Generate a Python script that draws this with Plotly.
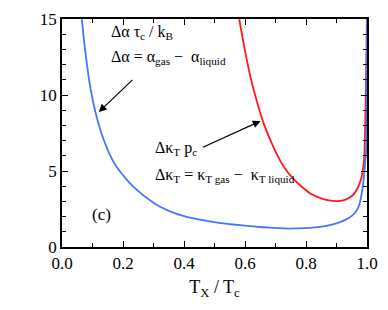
import plotly.graph_objects as go

# Blue curve: Δα τc / kB
alpha_x = [0.065, 0.072, 0.080, 0.088, 0.100, 0.110, 0.120, 0.135, 0.155, 0.175,
           0.195, 0.220, 0.250, 0.285, 0.320, 0.360, 0.400, 0.447, 0.510, 0.560,
           0.608, 0.660, 0.706, 0.745, 0.770, 0.820, 0.867, 0.900, 0.932, 0.950,
           0.964, 0.975, 0.981, 0.987, 0.991, 0.994, 0.997, 0.9985, 1.0]
alpha_y = [15.0, 13.6, 12.3, 11.1, 9.75, 8.85, 8.1, 7.15, 6.15, 5.4,
           4.85, 4.25, 3.68, 3.12, 2.66, 2.3, 2.03, 1.82, 1.60, 1.48,
           1.39, 1.30, 1.24, 1.21, 1.22, 1.27, 1.39, 1.55, 1.82, 2.05,
           2.34, 2.8, 3.35, 4.1, 4.87, 5.5, 6.3, 8.5, 15.0]

# Red curve: Δκ_T p_c
kappa_x = [0.581, 0.600, 0.619, 0.640, 0.660, 0.685, 0.706, 0.730, 0.760, 0.790,
           0.820, 0.850, 0.875, 0.905, 0.930, 0.954, 0.970, 0.981, 0.988, 0.991,
           0.994, 0.996, 0.998, 0.9995]
kappa_y = [15.0, 12.9, 11.1, 9.5, 8.2, 6.95, 6.05, 5.2, 4.45, 3.9,
           3.45, 3.2, 3.07, 3.02, 3.12, 3.42, 3.9, 4.5, 5.3, 5.9,
           8.0, 10.0, 12.5, 15.0]

x_ticks = [0.0, 0.2, 0.4, 0.6, 0.8, 1.0]
x_ticklabels = ["0.0", "0.2", "0.4", "0.6", "0.8", "1.0"]
y_ticks = [0, 5, 10, 15]
y_ticklabels = ["0", "5", "10", "15"]

FONT = "Liberation Serif, Times New Roman, serif"

fig = go.Figure()
fig.add_trace(go.Scatter(x=kappa_x, y=kappa_y, mode="lines",
                         line=dict(color="#ff1a1a", width=1.8, shape="spline", smoothing=0.5),
                         showlegend=False))
fig.add_trace(go.Scatter(x=alpha_x, y=alpha_y, mode="lines",
                         line=dict(color="#4477ff", width=1.8, shape="spline", smoothing=0.5),
                         showlegend=False))

axis_common = dict(showline=True, linecolor="black", linewidth=1.5, mirror="ticks",
                   ticks="inside", ticklen=6, tickwidth=1.2, tickcolor="black",
                   showgrid=False, zeroline=False,
                   tickfont=dict(family=FONT, size=17, color="black"))

fig.update_xaxes(range=[0, 1], tickvals=x_ticks, ticktext=x_ticklabels,
                 minor=dict(dtick=0.1, ticks="inside", ticklen=4, tickcolor="black", tickwidth=1.2),
                 title=dict(text="T<sub>X</sub> / T<sub>c</sub>",
                            font=dict(family=FONT, size=18, color="black"), standoff=8),
                 **axis_common)
fig.update_yaxes(range=[0, 15], tickvals=y_ticks, ticktext=y_ticklabels,
                 minor=dict(dtick=1, ticks="inside", ticklen=4, tickcolor="black", tickwidth=1.2),
                 **axis_common)

def label(x, y, text, size=16):
    fig.add_annotation(x=x, y=y, xref="x", yref="y", text=text, showarrow=False,
                       xanchor="left", yanchor="middle", xshift=-2,
                       font=dict(family=FONT, size=size, color="black"))

label(0.159, 14.1, "Δα τ<sub>c</sub> / k<sub>B</sub>")
label(0.159, 12.45, "Δα = α<sub>gas</sub> −  α<sub>liquid</sub>")
label(0.306, 6.5, "Δκ<sub>T</sub> p<sub>c</sub>")
label(0.306, 4.73, "Δκ<sub>T</sub> = κ<sub>T gas</sub> −  κ<sub>T liquid</sub>")
label(0.098, 2.15, "(c)", size=17)

# arrows
fig.add_annotation(x=0.1207, y=8.88, ax=0.236, ay=11.09, xref="x", yref="y",
                   axref="x", ayref="y", text="", showarrow=True,
                   arrowhead=2, arrowsize=1.3, arrowwidth=1.2, arrowcolor="black")
fig.add_annotation(x=0.651, y=8.29, ax=0.457, ay=6.52, xref="x", yref="y",
                   axref="x", ayref="y", text="", showarrow=True,
                   arrowhead=2, arrowsize=1.3, arrowwidth=1.2, arrowcolor="black")

fig.update_layout(width=388, height=310, margin=dict(l=62, r=17, t=10, b=63),
                  plot_bgcolor="white", paper_bgcolor="white")

fig.write_html("out.html", config={"displayModeBar": False},
               post_script="document.body.style.margin='0';")
